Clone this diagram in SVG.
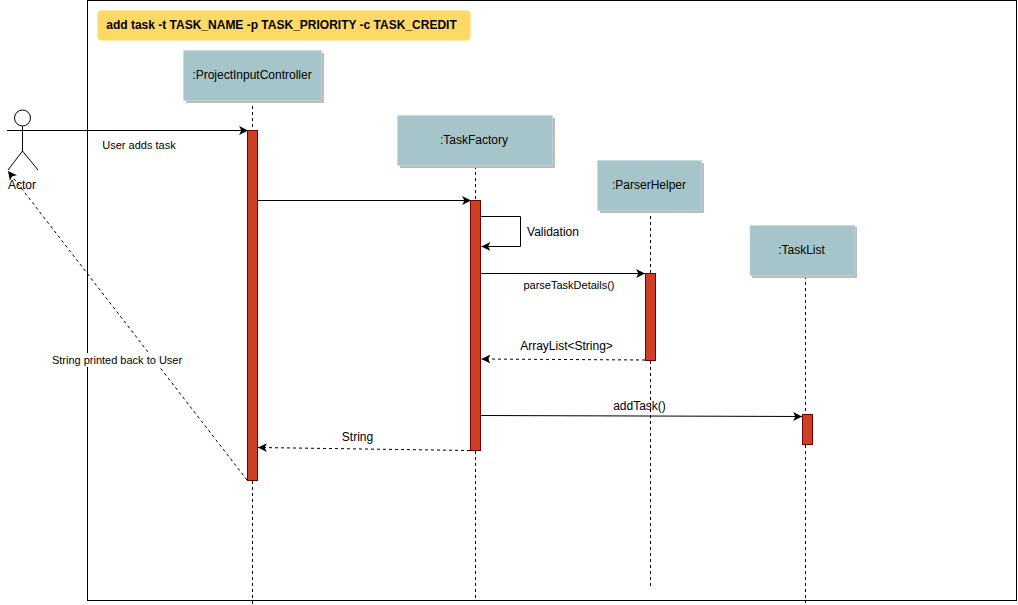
<svg xmlns="http://www.w3.org/2000/svg" width="1018" height="605" viewBox="0 0 1018 605">
<style>
text{font-family:"Liberation Sans",Arial,sans-serif;fill:#000;text-anchor:middle}
.s{font-size:11px}.m{font-size:12px}
.box{fill:#a5c5ca;stroke:#c4dadd;stroke-width:.6}
.shadow{fill:#bdbdbd}
.act{fill:#cd4023;stroke:#6f0000;stroke-width:1}
.life{fill:none;stroke:#000;stroke-width:1;stroke-dasharray:3 3}
.msg{fill:none;stroke:#000;stroke-width:1;marker-end:url(#a)}
.ret{fill:none;stroke:#000;stroke-width:1;stroke-dasharray:3 3;marker-end:url(#a)}
</style>
<defs>
<marker id="a" markerWidth="10" markerHeight="10" refX="8" refY="4" orient="auto" markerUnits="userSpaceOnUse" viewBox="0 0 9 8"><path d="M0 0L8 4L0 8L2 4Z" fill="#000"/></marker>
</defs>
<rect width="1018" height="605" fill="#fff"/>
<rect id="frame" x="87.500" y="0.500" width="929" height="600" fill="none" stroke="#000" stroke-width="1"/>
<g id="banner"><rect x="97.500" y="10.500" width="373" height="30" rx="4" fill="#ffd966" stroke="#ffe9a0" stroke-width=".6"/><text x="281.500" y="29" class="m" style="font-weight:700">add task -t TASK_NAME -p TASK_PRIORITY -c TASK_CREDIT</text></g>
<g id="connectors">
<path class="life" d="M252.500 100V130M252.500 481V604"/>
<path class="life" d="M475.500 166V200M475.500 451V598"/>
<path class="life" d="M650.500 210V273M650.500 361V586"/>
<path class="life" d="M805.500 276V414M805.500 445V603"/>
<path class="msg" d="M7 130.500H248"/>
<path class="msg" d="M258 200.500H471"/>
<path class="msg" d="M481 216.500H520.500V246.500H481.500"/>
<path class="msg" d="M481 273.500H645"/>
<path class="ret" d="M645 360L481.500 359"/>
<path class="msg" d="M481 415.500L802 416.500"/>
<path class="ret" d="M470 450.500L258 447.500"/>
<path class="ret" d="M247 480L8 171"/>
</g>
<g id="actor" fill="none" stroke="#000" stroke-width="1"><circle cx="22.500" cy="118" r="8" fill="#fff"/><path d="M22.500 126V151M7 130.500H38M22.500 151L8 170M22.500 151L38 170"/></g>
<text x="22" y="189" class="m">Actor</text>
<g id="pic"><rect class="shadow" x="186" y="53" width="138" height="50"/><rect class="box" x="183.500" y="50.500" width="138" height="50"/><text x="252" y="79" class="m">:ProjectInputController</text></g>
<g id="factory"><rect class="shadow" x="400" y="118" width="155" height="50"/><rect class="box" x="397.500" y="115.500" width="155" height="50"/><text x="474" y="144" class="m">:TaskFactory</text></g>
<g id="parser"><rect class="shadow" x="600" y="163" width="104" height="50"/><rect class="box" x="597.500" y="160.500" width="104" height="50"/><text x="649" y="189" class="m">:ParserHelper</text></g>
<g id="tasklist"><rect class="shadow" x="752" y="227" width="105" height="51"/><rect class="box" x="750" y="225.500" width="105" height="50"/><text x="801.500" y="254" class="m">:TaskList</text></g>
<g id="activations">
<rect class="act" x="247.500" y="130.500" width="10" height="350"/>
<rect class="act" x="470.500" y="200.500" width="10" height="250"/>
<rect class="act" x="645.500" y="273.500" width="10" height="87"/>
<rect class="act" x="802.500" y="414.500" width="10" height="30"/>
</g>
<g id="labels">
<text x="139" y="149" class="s">User adds task</text>
<text x="553" y="236" class="m">Validation</text>
<text x="569" y="289" class="s">parseTaskDetails()</text>
<text x="566.500" y="350" class="m">ArrayList&lt;String&gt;</text>
<text x="639.500" y="410" class="m">addTask()</text>
<text x="357.500" y="441" class="m">String</text>
<rect x="52" y="353" width="130" height="14" fill="#fff"/>
<text x="117" y="364" class="s">String printed back to User</text>
</g>
</svg>
